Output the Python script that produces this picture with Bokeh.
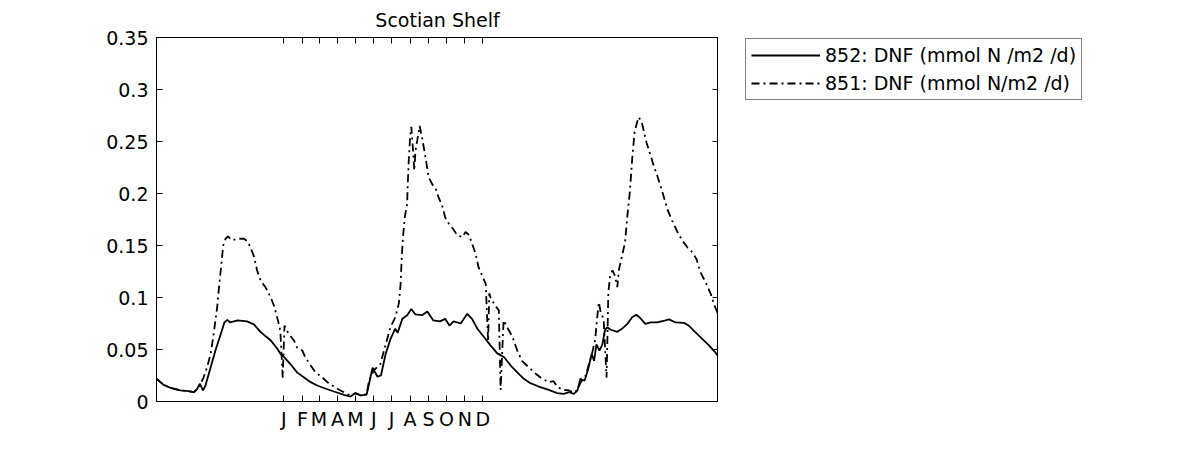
from bokeh.plotting import figure
from bokeh.layouts import row
from bokeh.models import (Range1d, FixedTicker, LinearAxis, CustomJSTickFormatter,
                          Legend, LegendItem)
from bokeh.embed import file_html
from bokeh.resources import INLINE

# ---------------- data ----------------
title_text = "Scotian Shelf"
month_ticks = [0, 31, 59, 90, 120, 151, 181, 212, 243, 273, 304, 334]
month_labels = ["J", "F", "M", "A", "M", "J", "J", "A", "S", "O", "N", "D"]
y_ticks = [0.0, 0.05, 0.1, 0.15, 0.2, 0.25, 0.3, 0.35]
y_labels = ["0", "0.05", "0.1", "0.15", "0.2", "0.25", "0.3", "0.35"]
x_start, x_end = -214, 730
y_start, y_end = 0.0, 0.35

name_852 = "852: DNF (mmol N /m2 /d)"
name_851 = "851: DNF (mmol N/m2 /d)"

# day relative to 1 January of the labelled year
day_852 = [-214, -202, -190, -174, -160, -151, -146, -141, -136, -132, -123, -115, -106,
           -100, -95, -90, -78, -62, -50, -39, -22, -11, -6, 0, 11, 22, 34, 45, 56, 67,
           84, 101, 112, 120, 129, 139, 143, 149, 157, 163, 171, 179, 187, 191, 199, 207,
           214, 221, 232, 241, 251, 262, 271, 278, 285, 297, 308, 316, 325, 336, 347,
           358, 370, 381, 392, 403, 414, 428, 445, 459, 470, 479, 487, 493, 498, 505,
           511, 517, 521, 525, 530, 535, 539, 543, 549, 560, 568, 577, 585, 592, 599,
           607, 616, 627, 641, 647, 658, 672, 680, 691, 703, 714, 725, 730]
dnf_852 = [0.022, 0.016, 0.013, 0.0106, 0.0099, 0.009, 0.012, 0.017, 0.0106, 0.015, 0.033,
           0.049, 0.065, 0.076, 0.0785, 0.076, 0.078, 0.077, 0.074, 0.0667, 0.0587, 0.0507,
           0.046, 0.043, 0.036, 0.028, 0.023, 0.0186, 0.0154, 0.013, 0.0096, 0.0064, 0.0048,
           0.008, 0.0058, 0.0067, 0.017, 0.0324, 0.024, 0.025, 0.046, 0.060, 0.070, 0.066,
           0.0795, 0.083, 0.089, 0.0837, 0.083, 0.0865, 0.078, 0.077, 0.0795, 0.073, 0.077,
           0.075, 0.0843, 0.0795, 0.070, 0.062, 0.054, 0.0465, 0.0426, 0.0346, 0.028,
           0.0218, 0.0176, 0.0144, 0.0112, 0.008, 0.0074, 0.009, 0.0074, 0.0106, 0.0218,
           0.020, 0.031, 0.046, 0.039, 0.055, 0.049, 0.055, 0.068, 0.0714, 0.069, 0.067,
           0.070, 0.0747, 0.081, 0.0834, 0.080, 0.0747, 0.076, 0.076, 0.078, 0.079, 0.076,
           0.0756, 0.073, 0.0667, 0.060, 0.054, 0.047, 0.043]

day_851 = [-214, -202, -190, -174, -160, -151, -146, -141, -135, -129, -123, -118, -112,
           -109, -105, -102, -98, -94, -87, -78, -67, -61, -56, -50, -45, -39, -31, -22,
           -16, -10, -6, -2, 1, 5, 11, 17, 22, 31, 36, 45, 53, 64, 73, 84, 95, 106, 112,
           120, 129, 139, 143, 151, 162, 171, 179, 187, 193, 196, 198, 200, 203, 207, 208,
           210, 212, 214, 217, 219, 221, 224, 228, 232, 236, 240, 243, 249, 255, 260, 266,
           271, 277, 284, 291, 300, 305, 311, 316, 322, 327, 333, 339, 343, 345, 347, 353,
           361, 364, 369, 375, 384, 392, 400, 411, 423, 434, 445, 453, 459, 468, 479, 487,
           493, 498, 507, 518, 523, 526, 529, 532, 537, 542, 545, 548, 552, 556, 560, 563,
           568, 573, 577, 581, 585, 589, 594, 596, 601, 605, 609, 614, 621, 627, 636, 644,
           652, 661, 669, 678, 686, 693, 700, 708, 717, 722, 730]
dnf_851 = [0.022, 0.016, 0.013, 0.0106, 0.0099, 0.009, 0.012, 0.016, 0.023, 0.033, 0.046,
           0.065, 0.091, 0.110, 0.132, 0.150, 0.1565, 0.1587, 0.155, 0.1565, 0.1565, 0.154,
           0.148, 0.139, 0.126, 0.116, 0.110, 0.100, 0.091, 0.078, 0.068, 0.023, 0.073,
           0.068, 0.063, 0.0587, 0.052, 0.049, 0.0426, 0.0346, 0.028, 0.0234, 0.0186,
           0.0144, 0.0106, 0.0074, 0.0055, 0.008, 0.006, 0.007, 0.020, 0.030, 0.036, 0.055,
           0.0714, 0.081, 0.094, 0.113, 0.139, 0.158, 0.177, 0.190, 0.209, 0.235, 0.254,
           0.264, 0.241, 0.222, 0.241, 0.251, 0.265, 0.254, 0.241, 0.227, 0.216, 0.209,
           0.2045, 0.196, 0.188, 0.177, 0.171, 0.166, 0.160, 0.158, 0.163, 0.160, 0.152,
           0.142, 0.129, 0.121, 0.113, 0.058, 0.104, 0.100, 0.094, 0.0875, 0.0112, 0.078,
           0.0714, 0.062, 0.049, 0.039, 0.033, 0.0266, 0.0218, 0.0186, 0.0195, 0.0144,
           0.0112, 0.0106, 0.0085, 0.011, 0.018, 0.025, 0.047, 0.060, 0.0795, 0.0955, 0.086,
           0.0795, 0.023, 0.105, 0.121, 0.126, 0.121, 0.110, 0.1275, 0.140, 0.153, 0.179,
           0.201, 0.233, 0.259, 0.270, 0.2734, 0.2686, 0.259, 0.249, 0.240, 0.227, 0.2173,
           0.201, 0.185, 0.174, 0.163, 0.155, 0.148, 0.1435, 0.137, 0.124, 0.115, 0.1035,
           0.094, 0.083]

# ---------------- styling ----------------
FONT = "DejaVu Sans"
FSIZE = "19px"
LW = 1.8
DASH = "8 4 2 4"

p = figure(frame_width=562, frame_height=364, output_backend="svg",
           toolbar_location=None,
           x_range=Range1d(x_start, x_end), y_range=Range1d(y_start, y_end),
           min_border_left=156, min_border_right=0, min_border_top=37,
           min_border_bottom=44, title=title_text, x_axis_type=None, y_axis_type=None)
p.background_fill_color = "white"
p.border_fill_color = "white"
p.outline_line_color = "black"
p.outline_line_width = 1
p.grid.visible = False

p.title.align = "center"
p.title.text_font = FONT
p.title.text_font_size = FSIZE
p.title.text_font_style = "normal"
p.title.text_color = "black"
p.title.standoff = 13


def lab_formatter(vals, labs):
    return CustomJSTickFormatter(args=dict(vals=vals, labs=labs), code="""
        for (let i = 0; i < vals.length; i++) {
            if (Math.abs(vals[i] - tick) < 1e-6) { return labs[i]; }
        }
        return '';
    """)


def style_axis(ax, show_labels):
    ax.major_tick_in = 6
    ax.major_tick_out = 0
    ax.minor_tick_in = 0
    ax.minor_tick_out = 0
    ax.axis_line_color = "black"
    ax.major_tick_line_color = "black"
    ax.major_label_text_font = FONT
    ax.major_label_text_color = "black"
    if show_labels:
        ax.major_label_text_font_size = FSIZE
    else:
        ax.major_label_text_font_size = "0px"
        ax.major_label_standoff = 0


xb = LinearAxis(ticker=FixedTicker(ticks=month_ticks),
                formatter=lab_formatter(month_ticks, month_labels))
style_axis(xb, True)
xb.major_label_standoff = 6
p.add_layout(xb, "below")

xt = LinearAxis(ticker=FixedTicker(ticks=month_ticks),
                formatter=lab_formatter(month_ticks, ["" for _ in month_ticks]))
style_axis(xt, False)
p.add_layout(xt, "above")

yl = LinearAxis(ticker=FixedTicker(ticks=y_ticks),
                formatter=lab_formatter(y_ticks, y_labels))
style_axis(yl, True)
yl.major_label_standoff = 8
p.add_layout(yl, "left")

yr = LinearAxis(ticker=FixedTicker(ticks=y_ticks),
                formatter=lab_formatter(y_ticks, ["" for _ in y_ticks]))
style_axis(yr, False)
p.add_layout(yr, "right")

p.line(day_852, dnf_852, line_color="black", line_width=LW)
p.line(day_851, dnf_851, line_color="black", line_width=LW, line_dash=DASH)

# ---------------- legend panel (separate figure to the right) ----------------
q = figure(width=462, height=445, output_backend="svg", toolbar_location=None,
           x_range=Range1d(x_start, x_end), y_range=Range1d(y_start, y_end),
           min_border_left=26, min_border_right=0, min_border_top=36,
           min_border_bottom=0, x_axis_type=None, y_axis_type=None)
q.outline_line_color = None
q.grid.visible = False
q.background_fill_color = "white"
q.border_fill_color = "white"

# hidden copies of the series, only used to draw the legend samples
k852 = q.line(day_852, dnf_852, line_color="black", line_width=LW, visible=False)
k851 = q.line(day_851, dnf_851, line_color="black", line_width=LW, line_dash=DASH,
              visible=False)

legend = Legend(items=[LegendItem(label=name_852, renderers=[k852]),
                       LegendItem(label=name_851, renderers=[k851])],
                location="top_left")
legend.margin = 1
legend.padding = 5
legend.spacing = 6
legend.label_height = 20
legend.glyph_height = 20
legend.glyph_width = 69
legend.label_standoff = 5
legend.label_text_font = FONT
legend.label_text_font_size = FSIZE
legend.label_text_color = "black"
legend.border_line_color = "black"
legend.border_line_width = 1
legend.background_fill_color = "white"
legend.background_fill_alpha = 1.0
legend.inactive_fill_alpha = 0.0
legend.click_policy = "none"
q.add_layout(legend, "center")

layout = row(p, q)
open("out.html", "w").write(file_html(layout, INLINE))
